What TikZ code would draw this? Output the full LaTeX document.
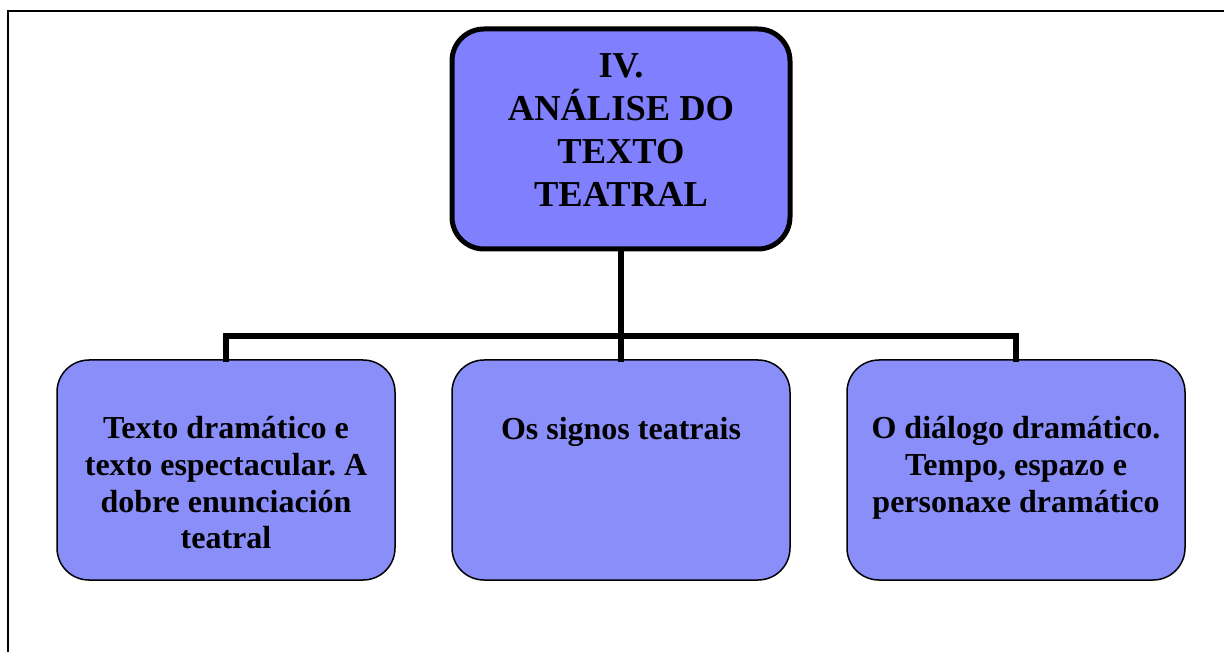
\documentclass[tikz,border=0pt]{standalone}
\usepackage{fontspec}
\setmainfont{Liberation Serif}
\frenchspacing
\definecolor{mainfill}{RGB}{128,128,255}
\definecolor{childfill}{RGB}{138,142,248}
\begin{document}
\begin{tikzpicture}[x=1pt,y=-1pt,
  frameline/.style={line width=2pt,black},
  mainbox/.style={draw=black,line width=5pt,fill=mainfill,rounded corners=32pt,
    minimum width=338pt,minimum height=220pt,inner sep=0pt},
  childbox/.style={draw=black,line width=1.5pt,fill=childfill,rounded corners=32pt,
    minimum width=338pt,minimum height=220pt,inner sep=0pt},
  maintext/.style={anchor=north,align=center,inner sep=0pt,
    font=\fontsize{36.5}{43}\selectfont\bfseries},
  childtext/.style={anchor=north,align=center,inner sep=0pt,
    font=\fontsize{32}{36.8}\selectfont\bfseries},
  conn/.style={line width=5.5pt,black,line join=miter,line cap=rect}]
\useasboundingbox (0,0) rectangle (1224,652);
% frame (left and top edges only)
\draw[frameline] (7.5,652) -- (7.5,11.5) -- (1224,11.5);
% boxes
\node[mainbox] (main) at (621,139) {};
\node[childbox] (left) at (226,470) {};
\node[childbox] (mid) at (621,470) {};
\node[childbox] (right) at (1016,470) {};
% connectors
\coordinate (j) at (621,336);
\draw[conn] (main.south) -- (mid.north);
\draw[conn] (left.north) -- (left.north |- j) -- (right.north |- j) -- (right.north);
% texts
\node[maintext] (tmain) at (621,53) {IV.\\ANÁLISE DO\\TEXTO\\TEATRAL};
\node[childtext] (tleft) at (226,416) {Texto dramático e\\texto espectacular. A\\dobre enunciación\\teatral};
\node[childtext] (tmid) at (621,417) {Os signos teatrais};
\node[childtext] (tright) at (1016,416) {O diálogo dramático.\\Tempo, espazo e\\personaxe dramático};
\end{tikzpicture}
\end{document}
